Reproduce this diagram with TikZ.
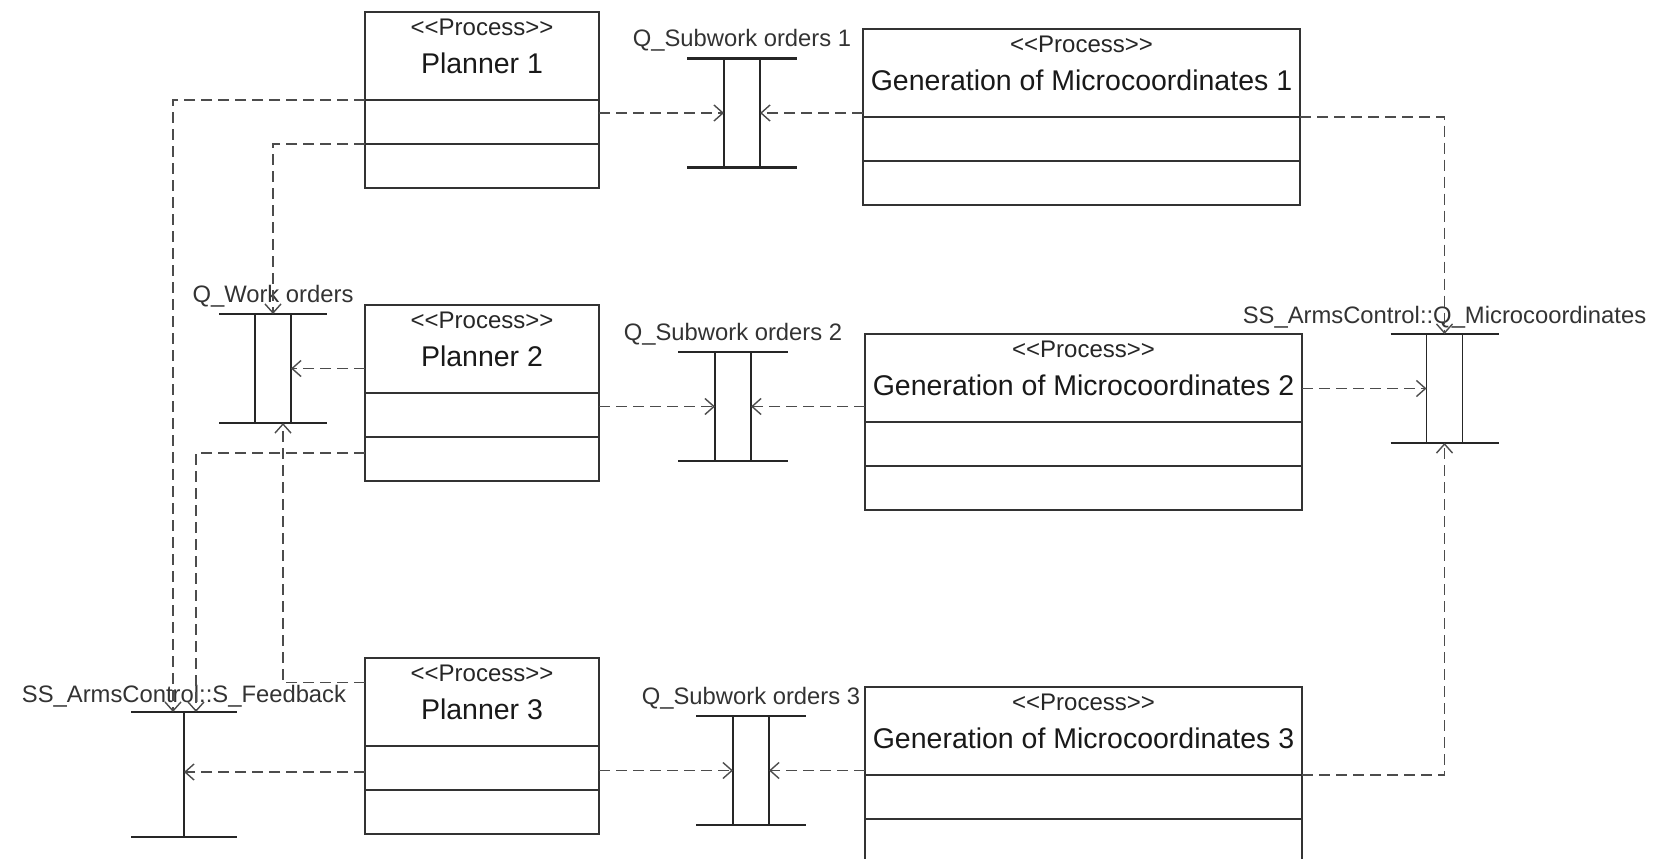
\documentclass[tikz,border=0pt]{standalone}
\usepackage{fontspec}
\setmainfont{Liberation Sans}
\usetikzlibrary{arrows.meta,positioning}

\begin{document}
\begin{tikzpicture}[x=1pt,y=-1pt,
  proc/.style={draw=black!80, line width=1.3pt, anchor=north west, minimum height=176pt, inner sep=0pt, outer sep=0pt},
  divider/.style={draw=black!80, line width=1.3pt},
  stereo/.style={font=\fontsize{24}{27}\selectfont, text=black!85, inner sep=0pt},
  ptitle/.style={font=\fontsize{28.5}{32}\selectfont, text=black!90, inner sep=0pt},
  queue/.style={draw=black!85, line width=1.6pt, minimum width=36pt, minimum height=109pt, inner sep=0pt, outer sep=0pt},
  bar/.style={draw=black!85, line width=2.6pt},
  qlabel/.style={font=\fontsize{23.8}{26}\selectfont, text=black!80, inner sep=0pt},
  flow/.style={draw=black!70, line width=1.4pt, dash pattern=on 11pt off 6pt, -{Straight Barb[length=9pt,width=16pt]}}
]
   \useasboundingbox (0,0) rectangle (1663,859);

   % process boxes
   \node[proc, minimum width=234pt] (p1) at (365,12) {};
   \node[proc, minimum width=234pt] (p2) at (365,305) {};
   \node[proc, minimum width=234pt] (p3) at (365,658) {};
   \node[proc, minimum width=437pt] (g1) at (863,29) {};
   \node[proc, minimum width=437pt] (g2) at (865,334) {};
   \node[proc, minimum width=437pt] (g3) at (865,687) {};
   \foreach \b/\t in {p1/Planner 1, p2/Planner 2, p3/Planner 3,
                      g1/Generation of Microcoordinates 1,
                      g2/Generation of Microcoordinates 2,
                      g3/Generation of Microcoordinates 3} {
     \draw[divider] ([yshift=-88pt]\b.north west) -- ([yshift=-88pt]\b.north east);
     \draw[divider] ([yshift=-132pt]\b.north west) -- ([yshift=-132pt]\b.north east);
     \node[stereo] (\b-s) at ([yshift=-15pt]\b.north) {<\kern0pt<Process>\kern0pt>};
     \node[ptitle] (\b-t) at ([yshift=-51pt]\b.north) {\t};
   }

   % queues
   \node[queue] (qs1) at (742,113) {};
   \node[queue] (qs2) at (733,406.5) {};
   \node[queue] (qs3) at (751,770.5) {};
   \node[queue] (qwo) at (273,368.5) {};
   \node[queue] (qmc) at (1444.5,388.5) {};
   \node[queue, minimum width=0pt, minimum height=125pt] (sfb) at (184,774.5) {};
   \foreach \q/\w in {qs1/55pt, qs2/55pt, qs3/55pt, qwo/54pt, qmc/54pt, sfb/53pt} { % top and bottom bars
     \draw[bar] ([xshift=-\w]\q.north) -- ([xshift=\w]\q.north);
     \draw[bar] ([xshift=-\w]\q.south) -- ([xshift=\w]\q.south);
   }
   \node[qlabel, above=12pt of qs1.north, anchor=base] (lqs1) {Q\_Subwork orders 1};
   \node[qlabel, above=12pt of qs2.north, anchor=base] (lqs2) {Q\_Subwork orders 2};
   \node[qlabel, above=12pt of qs3.north, anchor=base] (lqs3) {Q\_Subwork orders 3};
   \node[qlabel, above=12pt of qwo.north, anchor=base] (lqwo) {Q\_Work orders};
   \node[qlabel, above=11pt of qmc.north, anchor=base] (lqmc) {SS\_ArmsControl::Q\_Microcoordinates};
   \node[qlabel, above=10pt of sfb.north, anchor=base] (lsfb) {SS\_ArmsControl::S\_Feedback};

   % connectors
   \coordinate (p3f) at ([yshift=-26pt]p3.west);
   \draw[flow] (p1.east |- qs1.west) -- (qs1.west);
   \draw[flow] (g1.west |- qs1.east) -- (qs1.east);
   \draw[flow] (p2.east |- qs2.west) -- (qs2.west);
   \draw[flow] (g2.west |- qs2.east) -- (qs2.east);
   \draw[flow] (p3.east |- qs3.west) -- (qs3.west);
   \draw[flow] (g3.west |- qs3.east) -- (qs3.east);
   \draw[flow] (p2.west |- qwo.east) -- (qwo.east);
   \draw[flow] (g2.east |- qmc.west) -- (qmc.west);
   \draw[flow] ([yshift=-88pt]g1.north east) -| (qmc.north);
   \draw[flow] ([yshift=-88pt]g3.north east) -| (qmc.south);
   \draw[flow] ([yshift=-132pt]p1.north west) -| (qwo.north);
   \draw[flow] ([yshift=-88pt]p1.north west) -| ([xshift=-11pt]sfb.north);
   \draw[flow] ([yshift=-60pt]p2.west) -| ([xshift=12pt]sfb.north);
   \draw[flow] ([yshift=63.5pt]p3.west) -| ([xshift=10pt]qwo.south);
   \draw[flow] (p3f) -- (sfb |- p3f);
\end{tikzpicture}
\end{document}
